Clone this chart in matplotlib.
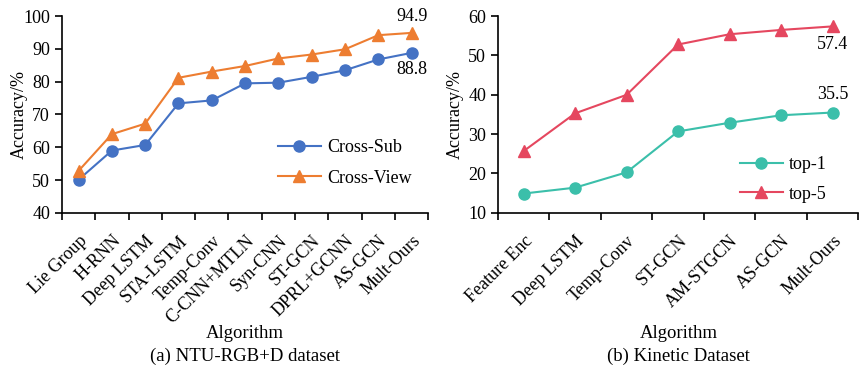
import numpy as np
import matplotlib.pyplot as plt
from matplotlib.transforms import ScaledTranslation

plt.rcParams['font.family'] = ['Liberation Serif', 'DejaVu Serif']
plt.rcParams['font.size'] = 13

ntu_algs = ['Lie Group', 'H-RNN', 'Deep LSTM', 'STA-LSTM', 'Temp-Conv', 'C-CNN+MTLN',
            'Syn-CNN', 'ST-GCN', 'DPRL+GCNN', 'AS-GCN', 'Mult-Ours']
cross_sub = [50.1, 59.0, 60.7, 73.4, 74.3, 79.5, 79.7, 81.5, 83.5, 86.8, 88.8]
cross_view = [52.8, 64.0, 67.2, 81.2, 83.1, 84.8, 87.1, 88.3, 89.9, 94.2, 94.9]

kin_algs = ['Feature Enc', 'Deep LSTM', 'Temp-Conv', 'ST-GCN', 'AM-STGCN', 'AS-GCN', 'Mult-Ours']
top1 = [14.9, 16.4, 20.3, 30.7, 32.9, 34.8, 35.5]
top5 = [25.7, 35.3, 40.0, 52.8, 55.4, 56.5, 57.4]


def style_axis(ax, labels, ylim, yticks):
    n = len(labels)
    x = np.arange(n)
    ax.set_xlim(-0.5, n - 0.5)
    ax.set_ylim(*ylim)
    ax.set_yticks(yticks)
    ax.set_xticks(x)
    ax.set_xticklabels(labels, rotation=45, ha='right', rotation_mode='anchor')
    # push the rotated labels a bit to the right, like the original
    shift = ScaledTranslation(12 / 100, 0, fig.dpi_scale_trans)
    for lab in ax.get_xticklabels():
        lab.set_transform(lab.get_transform() + shift)
    ax.tick_params(axis='x', length=0, pad=14, labelsize=13)
    ax.set_xticks(np.arange(n + 1) - 0.5, minor=True)
    ax.tick_params(axis='x', which='minor', length=5, width=1.2, direction='out')
    ax.tick_params(axis='y', length=5, width=1.2, direction='out', labelsize=13)
    for s in ['left', 'bottom']:
        ax.spines[s].set_linewidth(1.2)
    ax.spines['top'].set_visible(False)
    ax.spines['right'].set_visible(False)
    ax.set_ylabel('Accuracy/%', fontsize=13)
    return x


fig = plt.figure(figsize=(8.6, 3.76), dpi=100)
ax1 = fig.add_axes([0.072, 0.434, 0.426, 0.523])
ax2 = fig.add_axes([0.579, 0.434, 0.419, 0.523])

x1 = style_axis(ax1, ntu_algs, (40, 100), range(40, 101, 10))
ax1.yaxis.set_label_coords(-0.093, 0.5)
ax1.plot(x1, cross_sub, color='#4472C4', marker='o', markersize=8, lw=1.5, label='Cross-Sub')
ax1.plot(x1, cross_view, color='#ED7D31', marker='^', markersize=8, lw=1.5, label='Cross-View')
ax1.annotate(f'{cross_view[-1]}', (x1[-1], cross_view[-1]), xytext=(0, 6),
             textcoords='offset points', ha='center', va='bottom', fontsize=13)
ax1.annotate(f'{cross_sub[-1]}', (x1[-1], cross_sub[-1]), xytext=(0, -6),
             textcoords='offset points', ha='center', va='top', fontsize=13)
ax1.legend(loc='upper left', bbox_to_anchor=(0.323, 0.630), bbox_transform=fig.transFigure,
           frameon=False, fontsize=13, borderpad=0, borderaxespad=0,
           handlelength=2.4, handletextpad=0.35, labelspacing=0.75)

x2 = style_axis(ax2, kin_algs, (10, 60), range(10, 61, 10))
ax2.yaxis.set_label_coords(-0.095, 0.5)
ax2.plot(x2, top1, color='#3BBFAA', marker='o', markersize=8, lw=1.5, label='top-1')
ax2.plot(x2, top5, color='#E5475F', marker='^', markersize=8, lw=1.5, label='top-5')
ax2.annotate(f'{top5[-1]}', (x2[-1], top5[-1]), xytext=(0, -7),
             textcoords='offset points', ha='center', va='top', fontsize=13)
ax2.annotate(f'{top1[-1]}', (x2[-1], top1[-1]), xytext=(0, 7),
             textcoords='offset points', ha='center', va='bottom', fontsize=13)
ax2.legend(loc='upper left', bbox_to_anchor=(0.860, 0.585), bbox_transform=fig.transFigure,
           frameon=False, fontsize=13, borderpad=0, borderaxespad=0,
           handlelength=2.4, handletextpad=0.35, labelspacing=0.7)

fig.text(0.285, 0.114, 'Algorithm', ha='center', va='center', fontsize=13.5)
fig.text(0.789, 0.114, 'Algorithm', ha='center', va='center', fontsize=13.5)
fig.text(0.285, 0.053, '(a) NTU-RGB+D dataset', ha='center', va='center', fontsize=13.5)
fig.text(0.789, 0.053, '(b) Kinetic Dataset', ha='center', va='center', fontsize=13.5)

fig.savefig('out.png', dpi=100)
